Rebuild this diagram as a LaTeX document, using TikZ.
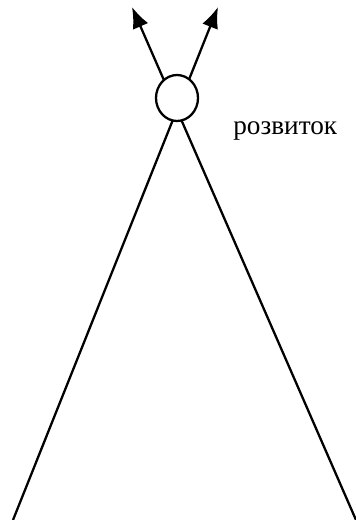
\documentclass[tikz,border=0pt]{standalone}
\usepackage{fontspec}
\setmainfont{Liberation Serif}
\usetikzlibrary{arrows.meta, shapes.geometric}

\begin{document}
\begin{tikzpicture}[x=0.02cm, y=-0.02cm, >={Latex[length=12pt, width=9.5pt]}]
    \useasboundingbox (0,0) rectangle (355,520);
    % Кінці ліній
    \coordinate (bl) at (13,520);
    \coordinate (br) at (356,520);
    \coordinate (tl) at (132,7);
    \coordinate (tr) at (218,7);
    
    % Дві лінії, що перетинаються
    \draw[line width=1.3pt, ->] (bl) -- (tr);
    \draw[line width=1.3pt, ->] (br) -- (tl);
    
    % Вузол у точці перетину
    \node[draw, ellipse, line width=1.3pt, fill=white, inner sep=0pt,
        minimum width=0.84cm, minimum height=0.92cm] (knot) at (177,98) {};
    \node[anchor=base west, inner sep=0pt, font=\fontsize{15.5}{18}\selectfont]
        (label) at (233,135) {розвиток};
\end{tikzpicture}
\end{document}
